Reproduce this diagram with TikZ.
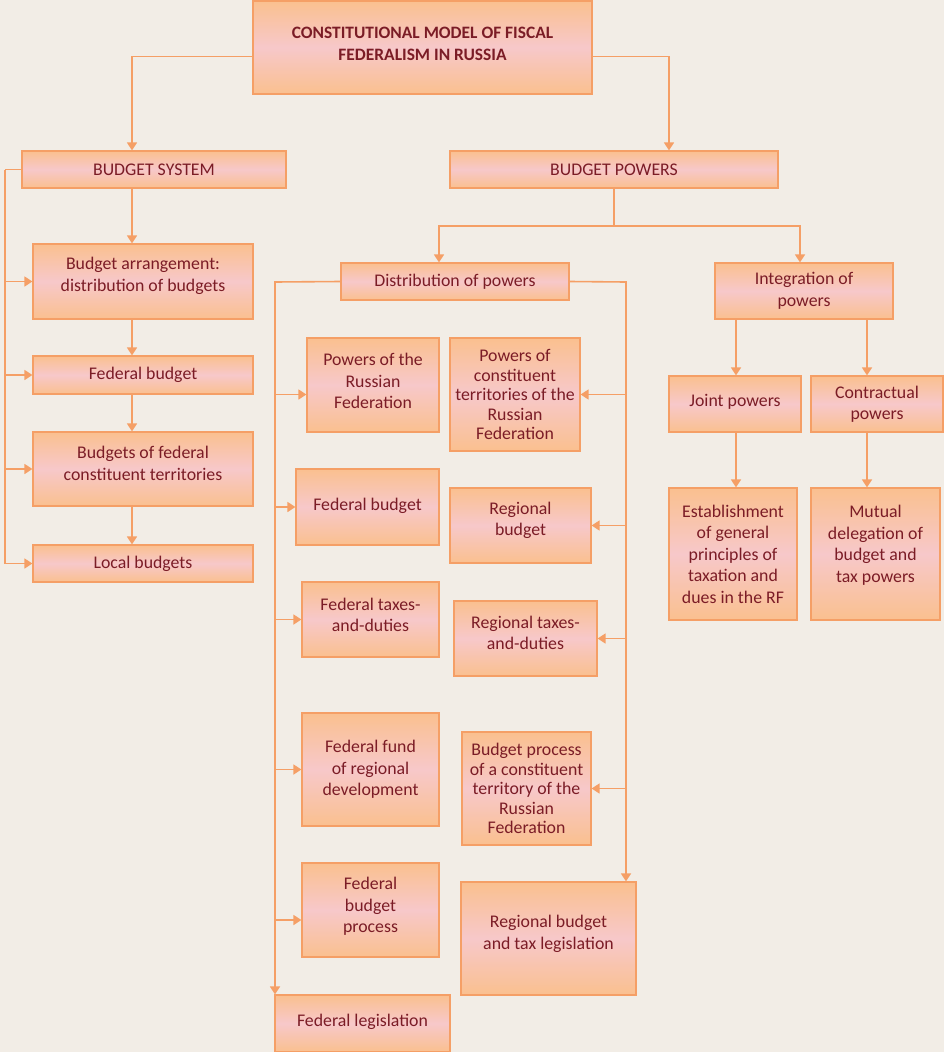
\documentclass[tikz,border=0pt]{standalone}
\usepackage{fontspec}
\setmainfont{Carlito}
\usetikzlibrary{arrows.meta}

\definecolor{bgbeige}{HTML}{F2EDE6}
\definecolor{boxorange}{HTML}{FAC08F}
\definecolor{boxpink}{HTML}{F7C8CA}
\definecolor{lineorange}{HTML}{F59F66}
\definecolor{textred}{HTML}{7B1C26}

\tikzset{
  box/.style={draw=lineorange, line width=1.2pt, top color=boxorange, bottom color=boxorange,
    middle color=boxpink, text=textred, align=center, inner sep=2pt,
    font=\fontsize{17.8}{21.5}\selectfont},
  tight/.style={font=\fontsize{17.8}{19.5}\selectfont},
  link/.style={draw=lineorange, line width=1.6pt},
  arr/.style={link, -{Triangle[width=10pt,length=8pt]}}
}

\begin{document}
\begin{tikzpicture}[x=1pt, y=-1pt]
		\fill[bgbeige] (0,0) rectangle (944,1052);
		\useasboundingbox (0,0) rectangle (944,1052);

		% top and the two main branches
		\node[box, minimum width=339pt, minimum height=93pt, text depth=7pt, font=\bfseries\fontsize{17.4}{22}\selectfont] (title) at (422.5,47.5) {CONSTITUTIONAL MODEL OF FISCAL\\FEDERALISM IN RUSSIA};
		\node[box, minimum width=264pt, minimum height=37pt] (bsys) at (154,169.5) {BUDGET SYSTEM};
		\node[box, minimum width=328pt, minimum height=37pt] (bpow) at (614,169.5) {BUDGET POWERS};

		% budget system column
		\node[box, minimum width=220pt, minimum height=75pt, text depth=14pt] (arrange) at (143,281.5) {Budget arrangement:\\distribution of budgets};
		\node[box, minimum width=220pt, minimum height=38pt] (fedb) at (143,375) {Federal budget};
		\node[box, minimum width=220pt, minimum height=74pt, text depth=11pt] (bfct) at (143,469) {Budgets of federal\\constituent territories};
		\node[box, minimum width=220pt, minimum height=37pt] (loc) at (143,563.5) {Local budgets};

		% budget powers
		\node[box, minimum width=228pt, minimum height=37pt] (dist) at (455,281.5) {Distribution of powers};
		\node[box, minimum width=178pt, minimum height=56pt] (integ) at (804,291) {Integration of\\powers};
		\node[box, minimum width=132pt, minimum height=56pt, text depth=8pt] (joint) at (735,404) {Joint powers};
		\node[box, minimum width=132pt, minimum height=56pt] (contr) at (877,404) {Contractual\\powers};
		\node[box, minimum width=128pt, minimum height=132pt] (estab) at (733,554) {Establishment\\of general\\principles of\\taxation and\\dues in the RF};
		\node[box, minimum width=129pt, minimum height=132pt, text depth=20pt] (mutual) at (875.5,554) {Mutual\\delegation of\\budget and\\tax powers};

		% federal side
		\node[box, minimum width=132pt, minimum height=94pt, text depth=8pt] (powrf) at (373,385) {Powers of the\\Russian\\Federation};
		\node[box, minimum width=143pt, minimum height=76pt, text depth=6pt] (fedbm) at (367.5,507) {Federal budget};
		\node[box, minimum width=137pt, minimum height=75pt, text depth=9pt] (fedtax) at (370.5,619.5) {Federal taxes-\\and-duties};
		\node[box, minimum width=137pt, minimum height=113pt] (fund) at (370.5,769.5) {Federal fund\\of regional\\development};
		\node[box, minimum width=137pt, minimum height=94pt, text depth=10pt] (fedproc) at (370.5,910) {Federal\\budget\\process};
		\node[box, minimum width=175pt, minimum height=57pt, text depth=7pt] (fedleg) at (362.5,1023.5) {Federal legislation};

		% regional side
		\node[box, tight, minimum width=130pt, minimum height=113pt] (powct) at (515,394.5) {Powers of\\constituent\\territories of the\\Russian\\Federation};
		\node[box, minimum width=141pt, minimum height=75pt, text depth=13pt] (regb) at (520.5,525.5) {Regional\\budget};
		\node[box, minimum width=143pt, minimum height=75pt, text depth=11pt] (regtax) at (525.5,638.5) {Regional taxes-\\and-duties};
		\node[box, tight, minimum width=129pt, minimum height=113pt] (bproc) at (526.5,788.5) {Budget process\\of a constituent\\territory of the\\Russian\\Federation};
		\node[box, minimum width=175pt, minimum height=113pt, text depth=12pt] (regleg) at (548.5,938.5) {Regional budget\\and tax legislation};

		% helper points for the bus lines
		\coordinate (lcol) at (132,0);
		\coordinate (rcol) at (669,0);
		\coordinate (sb) at (5,169.5);
		\coordinate (split) at (614,226);
		\coordinate (dl) at (275,282);
		\coordinate (dr) at (626,282);

		% connectors from the title
		\draw[arr] ([yshift=-9pt]title.west) -| (lcol |- bsys.north);
		\draw[arr] ([yshift=-9pt]title.east) -| (rcol |- bpow.north);

		% budget system chain
		\draw[arr] (lcol |- bsys.south) -- (lcol |- arrange.north);
		\draw[arr] (lcol |- arrange.south) -- (lcol |- fedb.north);
		\draw[arr] (lcol |- fedb.south) -- (lcol |- bfct.north);
		\draw[arr] (lcol |- bfct.south) -- (lcol |- loc.north);
		\draw[link] (bsys.west) -- (sb);
		\draw[arr] (sb) |- (loc.west);
		\draw[arr] (sb |- arrange.west) -- (arrange.west);
		\draw[arr] (sb |- fedb.west) -- (fedb.west);
		\draw[arr] (sb |- bfct.west) -- (bfct.west);

		% budget powers split
		\draw[link] (bpow.south) -- (split);
		\draw[arr] (split) -| ([xshift=-16pt]dist.north);
		\draw[arr] (split) -| ([xshift=-4pt]integ.north);

		% integration of powers
		\draw[arr] ([xshift=1pt]joint.north |- integ.south) -- ([xshift=1pt]joint.north);
		\draw[arr] ([xshift=-10pt]contr.north |- integ.south) -- ([xshift=-10pt]contr.north);
		\draw[arr] ([xshift=1pt]joint.south) -- ([xshift=1pt]joint.south |- estab.north);
		\draw[arr] ([xshift=-10pt]contr.south) -- ([xshift=-10pt]contr.south |- mutual.north);

		% distribution of powers, federal bus
		\draw[arr] (dist.west) -- (dl) -- (dl |- fedleg.north);
		\draw[arr] (dl |- powct.east) -- (powrf.west |- powct.east);
		\draw[arr] (dl |- fedbm.west) -- (fedbm.west);
		\draw[arr] (dl |- fedtax.west) -- (fedtax.west);
		\draw[arr] (dl |- fund.west) -- (fund.west);
		\draw[arr] ([yshift=-10pt]fedproc.west -| dl) -- ([yshift=-10pt]fedproc.west);

		% distribution of powers, regional bus
		\draw[arr] (dist.east) -- (dr) -- (dr |- regleg.north);
		\draw[arr] (dr |- powct.east) -- (powct.east);
		\draw[arr] (dr |- regb.east) -- (regb.east);
		\draw[arr] (dr |- regtax.east) -- (regtax.east);
		\draw[arr] (dr |- bproc.east) -- (bproc.east);
	\end{tikzpicture}
\end{document}
